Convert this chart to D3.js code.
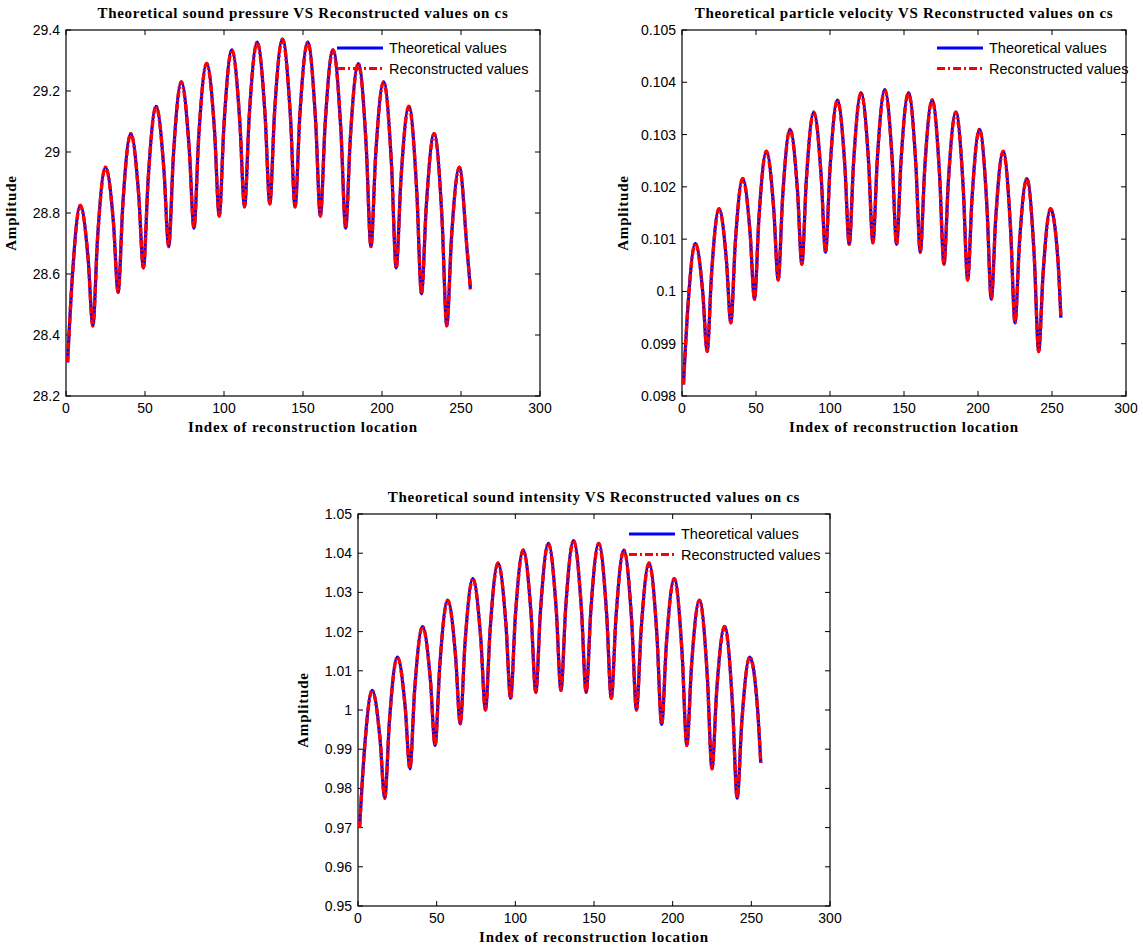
<!DOCTYPE html>
<html>
<head>
<meta charset="utf-8">
<script src="https://cdn.jsdelivr.net/npm/d3@7"></script>
<style>
body { margin: 0; background: #fff; }
.tick-label { font-family: "Liberation Sans", Arial, sans-serif; font-size: 14px; fill: #000; }
.title { font-family: "Liberation Serif", "Times New Roman", serif; font-weight: bold; font-size: 15px; letter-spacing: 0.7px; }
.axis-label { font-family: "Liberation Serif", "Times New Roman", serif; font-weight: bold; font-size: 15px; letter-spacing: 0.8px; }
.legend-text { font-family: "Liberation Sans", Arial, sans-serif; font-size: 14.5px; }
</style>
</head>
<body>
<div id="fig"></div>
<script>
var sampleIdx = [1, 4, 9, 14, 17, 20, 25, 30, 33, 36, 41, 46, 49, 52, 57, 62,
    65, 68, 73, 78, 81, 84, 89, 94, 97, 100, 105, 110, 113, 116, 121, 126,
    129, 132, 137, 142, 145, 148, 153, 158, 161, 164, 169, 174, 177, 180, 185, 190,
    193, 196, 201, 206, 209, 212, 217, 222, 225, 228, 233, 238, 241, 244, 249, 254, 256];

var pressureTheo = [28.31, 28.59, 28.825, 28.65, 28.43, 28.72, 28.95, 28.77,
    28.54, 28.83, 29.06, 28.86, 28.62, 28.91, 29.15, 28.94,
    28.69, 28.99, 29.23, 29.01, 28.75, 29.05, 29.29, 29.07,
    28.79, 29.09, 29.335, 29.10, 28.82, 29.12, 29.36, 29.12,
    28.83, 29.13, 29.37, 29.12, 28.82, 29.12, 29.36, 29.10,
    28.79, 29.09, 29.335, 29.07, 28.75, 29.05, 29.29, 29.02,
    28.69, 28.99, 29.23, 28.96, 28.62, 28.91, 29.15, 28.87,
    28.535, 28.82, 29.06, 28.78, 28.43, 28.72, 28.95, 28.67, 28.55];
// reconstructed curve lies exactly on the theoretical one
var pressureRec = pressureTheo;

var velocityTheo = [0.09822, 0.09971, 0.10092, 0.09999, 0.09885, 0.10035, 0.10158, 0.10060,
    0.09940, 0.10092, 0.10216, 0.10112, 0.09985, 0.10141, 0.10268, 0.10157,
    0.10022, 0.10180, 0.10310, 0.10194, 0.10052, 0.10212, 0.10343, 0.10222,
    0.10075, 0.10235, 0.10366, 0.10242, 0.10090, 0.10250, 0.10380, 0.10251,
    0.10093, 0.10254, 0.10386, 0.10253, 0.10090, 0.10250, 0.10380, 0.10243,
    0.10075, 0.10235, 0.10366, 0.10225, 0.10052, 0.10212, 0.10343, 0.10199,
    0.10022, 0.10180, 0.10310, 0.10164, 0.09985, 0.10141, 0.10268, 0.10120,
    0.09940, 0.10092, 0.10216, 0.10067, 0.09885, 0.10035, 0.10158, 0.10060, 0.09950];
var velocityRec = velocityTheo;

var intensityTheo = [0.970, 0.9893, 1.005, 0.9926, 0.9775, 0.9973, 1.0135, 1.0007,
    0.985, 1.005, 1.0213, 1.0077, 0.991, 1.0114, 1.028, 1.0138,
    0.9965, 1.0169, 1.0335, 1.0184, 1.000, 1.0206, 1.0375, 1.022,
    1.003, 1.0238, 1.0408, 1.0245, 1.0045, 1.0254, 1.0425, 1.0256,
    1.005, 1.026, 1.0432, 1.0258, 1.0045, 1.0254, 1.0425, 1.0247,
    1.003, 1.0238, 1.0408, 1.0224, 1.000, 1.0206, 1.0375, 1.019,
    0.9963, 1.0168, 1.0335, 1.0144, 0.991, 1.0114, 1.028, 1.0087,
    0.985, 1.005, 1.0213, 1.0016, 0.9775, 0.9973, 1.0135, 1.000, 0.9865];
var intensityRec = intensityTheo;

var xTicks = [0, 50, 100, 150, 200, 250, 300];
var pressureTicks = [28.2, 28.4, 28.6, 28.8, 29, 29.2, 29.4];
var pressureLabels = ['28.2', '28.4', '28.6', '28.8', '29', '29.2', '29.4'];
var velocityTicks = [0.098, 0.099, 0.1, 0.101, 0.102, 0.103, 0.104, 0.105];
var velocityLabels = ['0.098', '0.099', '0.1', '0.101', '0.102', '0.103', '0.104', '0.105'];
var intensityTicks = [0.95, 0.96, 0.97, 0.98, 0.99, 1, 1.01, 1.02, 1.03, 1.04, 1.05];
var intensityLabels = ['0.95', '0.96', '0.97', '0.98', '0.99', '1', '1.01', '1.02', '1.03', '1.04', '1.05'];
var legendNames = ['Theoretical values', 'Reconstructed values'];

var svg = d3.select('#fig')
    .append('svg')
    .attr('width', 1143)
    .attr('height', 951);

function drawPanel(p) {
    var x = d3.scaleLinear().domain([0, 300]).range([p.left, p.right]);
    var y = d3.scaleLinear().domain([p.ticks[0], p.ticks[p.ticks.length - 1]]).range([p.bottom, p.top]);
    var g = svg.append('g');
    var tl = 5;

    g.append('rect')
        .attr('x', p.left).attr('y', p.top)
        .attr('width', p.right - p.left).attr('height', p.bottom - p.top)
        .attr('fill', 'none').attr('stroke', '#000').attr('stroke-width', 1.2);

    // x ticks (inward, top and bottom)
    xTicks.forEach(function (v) {
        g.append('line').attr('x1', x(v)).attr('x2', x(v)).attr('y1', p.bottom).attr('y2', p.bottom - tl).attr('stroke', '#000');
        g.append('line').attr('x1', x(v)).attr('x2', x(v)).attr('y1', p.top).attr('y2', p.top + tl).attr('stroke', '#000');
        g.append('text').attr('class', 'tick-label')
            .attr('x', x(v)).attr('y', p.bottom + 17)
            .attr('text-anchor', 'middle').text(v);
    });
    // y ticks (inward, left and right)
    p.ticks.forEach(function (v, i) {
        g.append('line').attr('x1', p.left).attr('x2', p.left + tl).attr('y1', y(v)).attr('y2', y(v)).attr('stroke', '#000');
        g.append('line').attr('x1', p.right).attr('x2', p.right - tl).attr('y1', y(v)).attr('y2', y(v)).attr('stroke', '#000');
        g.append('text').attr('class', 'tick-label')
            .attr('x', p.left - 6).attr('y', y(v) + 5)
            .attr('text-anchor', 'end').text(p.labels[i]);
    });

    var line = d3.line()
        .x(function (d, i) { return x(sampleIdx[i]); })
        .y(function (d) { return y(d); })
        .curve(d3.curveMonotoneX);

    g.append('path').datum(p.theo)
        .attr('d', line).attr('fill', 'none')
        .attr('stroke', '#0000ff').attr('stroke-width', 3.2);
    g.append('path').datum(p.rec)
        .attr('d', line).attr('fill', 'none')
        .attr('stroke', '#ff0000').attr('stroke-width', 3.4)
        .attr('stroke-dasharray', '7,2,2,2');

    // titles and labels
    g.append('text').attr('class', 'title')
        .attr('x', (p.left + p.right) / 2).attr('y', p.top - 12)
        .attr('text-anchor', 'middle').text(p.title);
    g.append('text').attr('class', 'axis-label')
        .attr('x', (p.left + p.right) / 2).attr('y', p.bottom + 36)
        .attr('text-anchor', 'middle').text('Index of reconstruction location');
    g.append('text').attr('class', 'axis-label')
        .attr('transform', 'translate(' + (p.left - p.ylabOff) + ',' + ((p.top + p.bottom) / 2) + ') rotate(-90)')
        .attr('text-anchor', 'middle').text('Amplitude');

    // legend, no box
    var lg = g.append('g').attr('transform', 'translate(' + p.legX + ',' + p.legY + ')');
    lg.append('line').attr('x1', 0).attr('x2', 46).attr('y1', 0).attr('y2', 0)
        .attr('stroke', '#0000ff').attr('stroke-width', 3);
    lg.append('line').attr('x1', 0).attr('x2', 46).attr('y1', 20.5).attr('y2', 20.5)
        .attr('stroke', '#ff0000').attr('stroke-width', 3).attr('stroke-dasharray', '8,3,2,3');
    legendNames.forEach(function (name, i) {
        lg.append('text').attr('class', 'legend-text')
            .attr('x', 52).attr('y', i * 20.5 + 5).text(name);
    });
}

drawPanel({ left: 66, right: 540, top: 30, bottom: 396,
    ticks: pressureTicks, labels: pressureLabels, theo: pressureTheo, rec: pressureRec,
    title: 'Theoretical sound pressure VS Reconstructed values on cs',
    ylabOff: 50, legX: 337, legY: 48 });
drawPanel({ left: 682, right: 1126, top: 30, bottom: 396,
    ticks: velocityTicks, labels: velocityLabels, theo: velocityTheo, rec: velocityRec,
    title: 'Theoretical particle velocity VS Reconstructed values on cs',
    ylabOff: 54, legX: 937, legY: 48 });
drawPanel({ left: 358, right: 830, top: 514, bottom: 906,
    ticks: intensityTicks, labels: intensityLabels, theo: intensityTheo, rec: intensityRec,
    title: 'Theoretical sound intensity VS Reconstructed values on cs',
    ylabOff: 50, legX: 629, legY: 534 });
</script>
</body>
</html>
